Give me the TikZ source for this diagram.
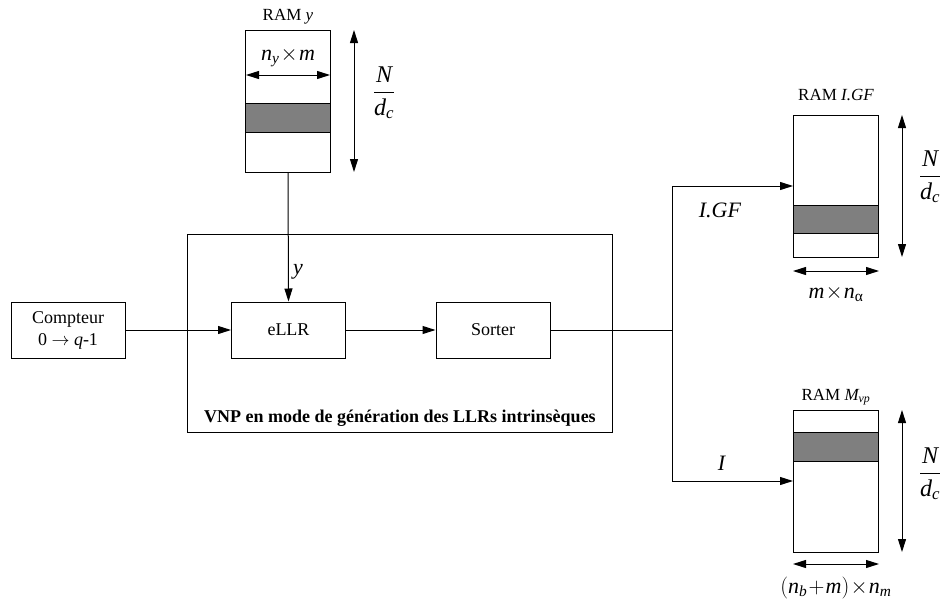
\documentclass[tikz,border=0pt]{standalone}
\usepackage{fix-cm}
\usepackage{amsmath}
\usepackage{fontspec}
\setmainfont{Liberation Serif}
\usetikzlibrary{arrows.meta}
\definecolor{bandgray}{RGB}{127,127,127}
\newcommand{\vi}[1]{\textit{#1}}
\newcommand{\ndc}{$\dfrac{\vi{N}}{\vi{d}_{\vi{c}}}$}
\begin{document}
\begin{tikzpicture}[x=1pt,y=-1pt,
  line width=1pt,
  >={Triangle[length=13pt,width=8pt]},
  blk/.style={draw, rectangle, minimum width=114pt, minimum height=56pt, inner sep=0pt, font=\fontsize{18}{22}\selectfont, align=center},
  ram/.style={draw, rectangle, minimum width=85pt, minimum height=142pt, inner sep=0pt},
  band/.style={draw, fill=bandgray, rectangle, minimum width=85pt, inner sep=0pt},
  ramlbl/.style={font=\fontsize{17}{20}\selectfont, inner sep=0pt},
  mlbl/.style={font=\fontsize{22}{26}\selectfont, inner sep=0pt},
  flbl/.style={font=\fontsize{24}{28}\selectfont, inner sep=0pt},
  dimarrow/.style={<->}
]
\useasboundingbox (0,0) rectangle (940,605);

% main blocks
\node[blk] (cpt) at (68,330) {Compteur\\0 $\rightarrow$ \vi{q}-1};
\node[blk] (ellr) at (288.5,330) {eLLR};
\node[blk] (sorter) at (493,330) {Sorter};
\node[draw, rectangle, minimum width=425pt, minimum height=198pt, inner sep=0pt] (vnp) at (399.5,333) {};
\node[font=\bfseries\fontsize{18}{22}\selectfont, anchor=base, inner sep=0pt] (vnplbl) at (400,422) {VNP en mode de génération des LLRs intrinsèques};

% RAM y
\node[ram] (ramy) at (288,101) {};
\node[band, minimum height=29pt] (bandy) at (288,117.5) {};
\node[ramlbl, anchor=base] (ramylbl) at (288,20) {RAM \vi{y}};
\coordinate (wyl) at (246,75);
\coordinate (wyr) at (330,75);
\draw[dimarrow] (wyl) -- (wyr);
\node[mlbl] (ramyw) at (288,57) {$\vi{n}_{\vi{y}}\!\times\!\vi{m}$};
\coordinate (hyt) at (354,30);
\coordinate (hyb) at (354,172);
\draw[dimarrow] (hyt) -- (hyb);
\node[flbl] (ramyh) at (384,93) {\ndc};

% RAM I.GF
\node[ram] (ramgf) at (836,186) {};
\node[band, minimum height=28pt] (bandgf) at (836,219.5) {};
\node[ramlbl, anchor=base] (ramgflbl) at (836,100) {RAM \vi{I.GF}};
\coordinate (hgt) at (902,115);
\coordinate (hgb) at (902,257);
\draw[dimarrow] (hgt) -- (hgb);
\node[flbl] (ramgfh) at (930,177) {\ndc};
\coordinate (wgl) at (793,271);
\coordinate (wgr) at (879,271);
\draw[dimarrow] (wgl) -- (wgr);
\node[mlbl] (ramgfw) at (836,294) {$\vi{m}\!\times\!\vi{n}_{\text{α}}$};

% RAM M_vp
\node[ram] (rammvp) at (836,481) {};
\node[band, minimum height=29pt] (bandmvp) at (836,446.5) {};
\node[ramlbl, anchor=base] (rammvplbl) at (836,400) {RAM $\vi{M}_{\vi{vp}}$};
\coordinate (hmt) at (902,410);
\coordinate (hmb) at (902,552);
\draw[dimarrow] (hmt) -- (hmb);
\node[flbl] (rammvph) at (930,474) {\ndc};
\coordinate (wml) at (793,564);
\coordinate (wmr) at (879,564);
\draw[dimarrow] (wml) -- (wmr);
\node[mlbl] (rammvpw) at (836,588) {$(\vi{n}_{\vi{b}}\!+\!\vi{m})\!\times\!\vi{n}_{\vi{m}}$};

% connectors
\draw[->] (cpt) -- (ellr);
\draw[->] (ellr) -- (sorter);
\draw[->] (ramy.south) -- (ellr.north);
\node[mlbl] (ylbl) at (298,272) {\vi{y}};
\coordinate (br) at (672,330);
\coordinate (brt) at (672,186);
\coordinate (brb) at (672,481);
\draw (sorter.east) -- (br);
\draw[->] (br) -- (brt) -- (ramgf.west);
\draw[->] (br) -- (brb) -- (rammvp.west);
\node[mlbl] (igflbl) at (720,210) {\vi{I.GF}};
\node[mlbl] (ilbl) at (722,463) {\vi{I}};
\end{tikzpicture}
\end{document}
